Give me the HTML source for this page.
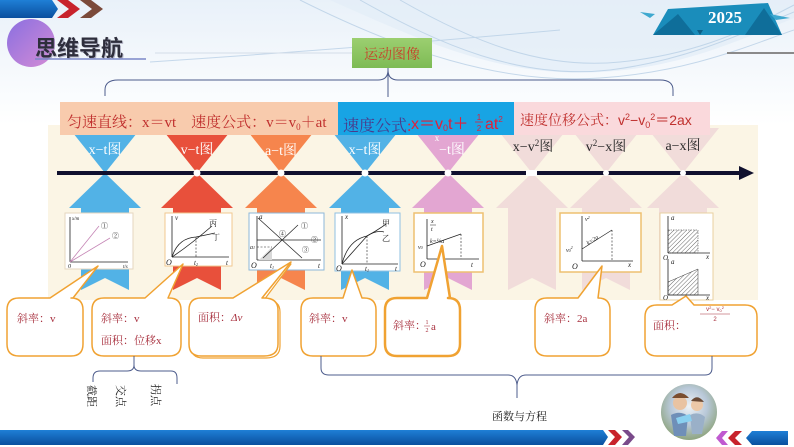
<!DOCTYPE html>
<html><head><meta charset="utf-8">
<style>
html,body{margin:0;padding:0;width:794px;height:447px;overflow:hidden;background:#fff}
svg{display:block}
.s{font-family:"Liberation Serif","Noto Serif CJK SC",serif}
.ss{font-family:"Liberation Sans","Noto Sans CJK SC",sans-serif}
</style></head><body>
<svg width="794" height="447" viewBox="0 0 794 447" xmlns="http://www.w3.org/2000/svg">
<defs>
<linearGradient id="topg" x1="0" y1="0" x2="0" y2="1"><stop offset="0" stop-color="#e9f1f9"/><stop offset="1" stop-color="#ffffff"/></linearGradient>
<linearGradient id="pc" x1="0" y1="0" x2="1" y2="1"><stop offset="0" stop-color="#8a6fe0"/><stop offset="1" stop-color="#d58cd6"/></linearGradient>
<linearGradient id="gb" x1="0" y1="0" x2="0" y2="1"><stop offset="0" stop-color="#9ccf70"/><stop offset="1" stop-color="#7dbb55"/></linearGradient>
<linearGradient id="bb" x1="0" y1="0" x2="0" y2="1"><stop offset="0" stop-color="#1f7fd6"/><stop offset="1" stop-color="#0a4f9e"/></linearGradient>
<radialGradient id="av" cx="0.5" cy="0.4" r="0.6"><stop offset="0" stop-color="#eef2f6"/><stop offset="0.55" stop-color="#b8c8d8"/><stop offset="1" stop-color="#8ea47e"/></radialGradient>
<pattern id="hatch" width="3" height="3" patternUnits="userSpaceOnUse" patternTransform="rotate(45)"><line x1="0" y1="0" x2="0" y2="3" stroke="#444" stroke-width="0.8"/></pattern>
<path id="tp" d="M-36,128 L36,128 L0,173Z"/>
<path id="bp" d="M0,173 L36,208 L24,208 L24,290 L0,278 L-24,290 L-24,208 L-36,208Z"/>
</defs>

<!-- background -->
<rect width="794" height="447" fill="#ffffff"/>
<rect width="794" height="125" fill="url(#topg)"/>
<path d="M330,0 C420,40 500,78 600,72 C680,68 740,40 794,18 L794,0 Z" fill="#e3edf7" opacity="0.8"/>
<g fill="none" stroke="#b9d0e6" stroke-width="1" opacity="0.8">
<path d="M360,0 C440,45 520,80 610,70 C690,60 750,30 794,12"/>
<path d="M400,0 C470,40 540,70 620,62 C700,54 750,28 794,5"/>
<path d="M300,0 C400,50 500,85 600,78 C690,72 750,45 794,30"/>
<path d="M150,62 C300,52 450,40 560,30"/>
</g>

<!-- top-left header -->
<path d="M0,0 L52,0 L58,9 L52,18 L0,18Z" fill="url(#bb)"/>
<path d="M57,0 L68,0 L80,9 L68,18 L57,18 L69,9Z" fill="#c8232c"/>
<path d="M80,0 L91,0 L103,9 L91,18 L80,18 L92,9Z" fill="#7b4a3a"/>
<circle cx="31" cy="43" r="24" fill="url(#pc)"/>
<text x="36" y="57" class="ss" font-size="22" font-weight="bold" fill="#8e8ea8" opacity="0.6">思维导航</text>
<text x="35" y="56" class="ss" font-size="22" font-weight="bold" fill="#2e2e3c">思维导航</text>
<line x1="35" y1="59" x2="146" y2="59" stroke="#7b87c8" stroke-width="1.5"/>
<line x1="155" y1="53" x2="352" y2="53" stroke="#d4dde8" stroke-width="1"/>

<!-- 2025 banner -->
<polygon points="653,35 668,9 768,3 782,35" fill="#1a8dbb"/>
<polygon points="653,35 678,14 695,35" fill="#0f6e9a"/>
<polygon points="745,35 764,8 782,35" fill="#0f6e9a"/>
<polygon points="640,12 655,14 650,18" fill="#3ea8cf"/>
<polygon points="770,14 790,18 776,20" fill="#3ea8cf"/>
<polygon points="697,30 703,30 700,35" fill="#0d5f86"/>
<text x="725" y="23" text-anchor="middle" class="s" font-size="17" font-weight="bold" fill="#ffffff">2025</text>
<line x1="727" y1="53" x2="794" y2="53" stroke="#8a8a8a" stroke-width="2"/>

<!-- green box -->
<rect x="352" y="38" width="80" height="30" fill="url(#gb)"/>
<text x="392" y="59" text-anchor="middle" class="s" font-size="14" fill="#c8402a">运动图像</text>

<!-- top brace -->
<path d="M105,96 L105,90 Q105,80 118,80 L378,80 Q388,80 388,70 M388,70 Q388,80 398,80 L660,80 Q673,80 673,90 L673,96 M388,68 L388,97" fill="none" stroke="#4d5c8c" stroke-width="1"/>

<!-- cream panel -->
<rect x="48" y="125" width="710" height="175" fill="#fbf5e5"/>

<!-- markers -->
<g>
<use href="#tp" x="105" fill="#52b2e6"/><use href="#bp" x="105" fill="#52b2e6"/>
<use href="#tp" x="197" fill="#e8503b"/><use href="#bp" x="197" fill="#e8503b"/>
<use href="#tp" x="281" fill="#f6854d"/><use href="#bp" x="281" fill="#f6854d"/>
<use href="#tp" x="365" fill="#52b2e6"/><use href="#bp" x="365" fill="#52b2e6"/>
<use href="#tp" x="448" fill="#e3a6d2"/><use href="#bp" x="448" fill="#e3a6d2"/>
<use href="#tp" x="532" fill="#f1dcda"/><use href="#bp" x="532" fill="#f1dcda"/>
<use href="#tp" x="606" fill="#f1dcda"/><use href="#bp" x="606" fill="#f1dcda"/>
<use href="#tp" x="683" fill="#f1dcda"/><use href="#bp" x="683" fill="#f1dcda"/>
</g>

<!-- axis -->
<line x1="57" y1="173" x2="742" y2="173" stroke="#10102e" stroke-width="4"/>
<polygon points="739,166 754,173 739,180" fill="#10102e"/>
<rect x="526" y="170" width="11" height="6" fill="#ffffff"/>
<g fill="#ffffff">
<circle cx="197" cy="173" r="3.5"/><circle cx="281" cy="173" r="3.5"/>
<circle cx="365" cy="173" r="3.5"/><circle cx="448" cy="173" r="3.5"/>
<circle cx="606" cy="173" r="3"/><circle cx="683" cy="173" r="3"/>
</g>

<!-- formula boxes -->
<rect x="60" y="102" width="278" height="33" fill="#f8cbad"/>
<text x="67" y="127" class="s" font-size="15" fill="#c0302e">匀速直线：x＝vt　速度公式：v＝v<tspan font-size="9" dy="3">0</tspan><tspan dy="-3">＋at</tspan></text>
<rect x="338" y="102" width="176" height="33" fill="#18a4e4"/>
<text x="343" y="131" class="s" font-size="16" fill="#4a3a8a">速度公式<tspan fill="#e0203a">:</tspan></text>
<text x="411" y="129" class="ss" font-size="16" fill="#e0203a">x＝v<tspan font-size="9" dy="2">0</tspan><tspan dy="-2">t＋</tspan></text>
<text x="479" y="120" text-anchor="middle" class="ss" font-size="8" fill="#e0203a">1</text>
<line x1="475" y1="122" x2="483" y2="122" stroke="#e0203a" stroke-width="0.8"/>
<text x="479" y="131" text-anchor="middle" class="ss" font-size="8" fill="#e0203a">2</text>
<text x="485" y="129" class="ss" font-size="16" fill="#e0203a">at<tspan font-size="8" dy="-7">2</tspan></text>
<rect x="514" y="102" width="196" height="33" fill="#fad9dc"/>
<text x="520" y="125" class="s" font-size="14" fill="#c0302e">速度位移公式：<tspan class="ss">v<tspan font-size="9" dy="-5">2</tspan><tspan dy="5">−v</tspan><tspan font-size="9" dy="3">0</tspan><tspan font-size="9" dy="-8">2</tspan><tspan dy="5">＝2ax</tspan></tspan></text>

<!-- marker labels -->
<g class="s" font-size="14" text-anchor="middle" fill="#ffffff">
<text x="105" y="154">x−t图</text>
<text x="197" y="154">v−t图</text>
<text x="281" y="155">a−t图</text>
<text x="365" y="154">x−t图</text>
<text x="452" y="154">−t图</text>
<text x="437" y="141" font-size="9">x</text>
</g>
<g class="s" font-size="14" text-anchor="middle" fill="#2a2a2a">
<text x="533" y="151">x−v<tspan font-size="9" dy="-5">2</tspan><tspan dy="5">图</tspan></text>
<text x="606" y="151">v<tspan font-size="9" dy="-5">2</tspan><tspan dy="5">−x图</tspan></text>
<text x="683" y="150">a−x图</text>
</g>

<!-- graph boxes -->
<g class="s" font-size="7" font-style="italic" fill="#222">
<rect x="65" y="213" width="68" height="56" fill="#fff" stroke="#e6d6bf" stroke-width="1"/>
<line x1="70" y1="262" x2="70" y2="217" stroke="#222" stroke-width="0.8"/>
<line x1="70" y1="262" x2="128" y2="262" stroke="#222" stroke-width="0.8"/>
<line x1="70" y1="262" x2="99" y2="226" stroke="#c585b5" stroke-width="0.8"/>
<line x1="70" y1="262" x2="110" y2="238" stroke="#c585b5" stroke-width="0.8"/>
<text x="72" y="220" font-size="5">x/m</text>
<text x="101" y="228" font-size="7" font-style="normal">①</text>
<text x="112" y="238" font-size="7" font-style="normal">②</text>
<text x="68" y="268" font-size="6">0</text>
<text x="123" y="268" font-size="5">t/s</text>
<rect x="165" y="213" width="67" height="53" fill="#fff" stroke="#f0c890" stroke-width="1"/>
<line x1="172" y1="257" x2="172" y2="216" stroke="#222" stroke-width="0.8"/>
<line x1="172" y1="257" x2="229" y2="257" stroke="#222" stroke-width="0.8"/>
<path d="M172,257 Q190,245 212,226" fill="none" stroke="#222" stroke-width="0.8"/>
<path d="M172,257 Q178,238 196,237 Q206,235 215,233" fill="none" stroke="#222" stroke-width="0.8"/>
<line x1="196" y1="237" x2="196" y2="257" stroke="#222" stroke-width="0.6" stroke-dasharray="2,1.5"/>
<text x="175" y="220">v</text>
<text x="209" y="226" font-style="normal" font-size="8">丙</text>
<text x="212" y="240" font-style="normal" font-size="8">丁</text>
<text x="166" y="265" font-size="8">O</text>
<text x="194" y="265">t<tspan font-size="4" dy="1">2</tspan></text>
<text x="226" y="265">t</text>
<rect x="249" y="213" width="75" height="57" fill="#fff" stroke="#8db7d9" stroke-width="1"/>
<line x1="257" y1="260" x2="257" y2="216" stroke="#222" stroke-width="0.8"/>
<line x1="257" y1="260" x2="321" y2="260" stroke="#222" stroke-width="0.8"/>
<polygon points="259,260 272,247 272,260" fill="#d8d8d8"/>
<line x1="258" y1="218" x2="302" y2="258" stroke="#222" stroke-width="0.7"/>
<line x1="263" y1="258" x2="298" y2="225" stroke="#222" stroke-width="0.7"/>
<line x1="257" y1="240" x2="321" y2="240" stroke="#222" stroke-width="0.7"/>
<line x1="257" y1="247" x2="272" y2="247" stroke="#222" stroke-width="0.6" stroke-dasharray="2,1.5"/>
<text x="259" y="219">a</text>
<text x="250" y="249" font-size="6">a<tspan font-size="4">1</tspan></text>
<text x="279" y="236" font-style="normal">④</text>
<text x="301" y="228" font-style="normal">①</text>
<text x="311" y="242" font-style="normal">②</text>
<text x="302" y="252" font-style="normal">③</text>
<text x="251" y="268" font-size="8">O</text>
<text x="270" y="268">t<tspan font-size="4" dy="1">1</tspan></text>
<text x="318" y="268">t</text>
<rect x="335" y="213" width="65" height="58" fill="#fff" stroke="#8fc0e2" stroke-width="1"/>
<line x1="342" y1="264" x2="342" y2="216" stroke="#222" stroke-width="0.8"/>
<line x1="342" y1="264" x2="398" y2="264" stroke="#222" stroke-width="0.8"/>
<path d="M342,264 Q348,240 367,236 Q378,230 386,224" fill="none" stroke="#222" stroke-width="0.8"/>
<path d="M342,264 Q358,246 367,236 Q376,230 384,232" fill="none" stroke="#222" stroke-width="0.8"/>
<line x1="367" y1="236" x2="367" y2="264" stroke="#222" stroke-width="0.6" stroke-dasharray="2,1.5"/>
<text x="345" y="219">x</text>
<text x="382" y="226" font-style="normal" font-size="8">甲</text>
<text x="382" y="241" font-style="normal" font-size="8">乙</text>
<text x="336" y="271" font-size="8">O</text>
<text x="365" y="271">t<tspan font-size="4" dy="1">1</tspan></text>
<text x="395" y="271">t</text>
<rect x="414" y="213" width="69" height="59" fill="#fff" stroke="#eec070" stroke-width="1.5"/>
<line x1="427" y1="259" x2="427" y2="219" stroke="#222" stroke-width="0.8"/>
<line x1="427" y1="259" x2="479" y2="259" stroke="#222" stroke-width="0.8"/>
<line x1="427" y1="246" x2="461" y2="234" stroke="#222" stroke-width="0.7"/>
<line x1="461" y1="234" x2="461" y2="259" stroke="#222" stroke-width="0.6" stroke-dasharray="2,1.5"/>
<text x="431" y="223" font-size="6">x</text>
<line x1="430" y1="225" x2="436" y2="225" stroke="#222" stroke-width="0.5"/>
<text x="431" y="231" font-size="6">t</text>
<text x="430" y="243" font-size="6">k=½a</text>
<text x="418" y="249" font-size="6">v<tspan font-size="4">0</tspan></text>
<text x="420" y="267" font-size="8">O</text>
<text x="471" y="267">t</text>
<rect x="560" y="213" width="81" height="59" fill="#fff" stroke="#eec070" stroke-width="1.5"/>
<line x1="582" y1="261" x2="582" y2="216" stroke="#222" stroke-width="0.8"/>
<line x1="582" y1="261" x2="633" y2="261" stroke="#222" stroke-width="0.8"/>
<line x1="582" y1="249" x2="612" y2="230" stroke="#222" stroke-width="0.7"/>
<line x1="612" y1="230" x2="612" y2="261" stroke="#222" stroke-width="0.6" stroke-dasharray="2,1.5"/>
<text x="585" y="221" font-size="6">v<tspan font-size="4" dy="-2">2</tspan></text>
<text x="588" y="245" font-size="6" transform="rotate(-32 588 245)">k=2a</text>
<text x="566" y="252" font-size="6">v<tspan font-size="4">0</tspan><tspan font-size="4" dy="-3">2</tspan></text>
<text x="572" y="269" font-size="8">O</text>
<text x="628" y="267">x</text>
<rect x="660" y="213" width="53" height="87" fill="#fff" stroke="#e8d0a0" stroke-width="1"/>
<line x1="668" y1="253" x2="668" y2="216" stroke="#222" stroke-width="0.8"/>
<line x1="668" y1="253" x2="710" y2="253" stroke="#222" stroke-width="0.8"/>
<rect x="668" y="230" width="30" height="23" fill="url(#hatch)" stroke="#333" stroke-width="0.5" stroke-dasharray="1.5,1"/>
<text x="671" y="220">a</text>
<text x="663" y="260" font-size="7">O</text>
<text x="706" y="259">x</text>
<line x1="668" y1="295" x2="668" y2="259" stroke="#222" stroke-width="0.8"/>
<line x1="668" y1="295" x2="710" y2="295" stroke="#222" stroke-width="0.8"/>
<polygon points="668,282 698,269 698,295 668,295" fill="url(#hatch)" stroke="#333" stroke-width="0.5"/>
<text x="671" y="264">a</text>
<text x="663" y="300" font-size="7">O</text>
<text x="706" y="300">x</text>
</g>

<!-- callouts -->
<g fill="#ffffff" stroke="#f0a232" stroke-width="1.5" stroke-linejoin="round">
<path d="M19,298 L50,298 L98,266 L73,298 L71,298 Q83,298 83,310 L83,344 Q83,356 71,356 L19,356 Q7,356 7,344 L7,310 Q7,298 19,298Z"/>
<path d="M104,298 L145,298 L183,264 L168,298 L169,298 Q181,298 181,310 L181,344 Q181,356 169,356 L104,356 Q92,356 92,344 L92,310 Q92,298 104,298Z"/>
<path d="M203,300 L235,300 L291,264 L264,300 L266,300 Q280,300 280,312 L280,346 Q280,358 266,358 L203,358 Q191,358 191,346 L191,312 Q191,300 203,300Z" stroke-width="1.2"/>
<path d="M201,298 L233,298 L291,262 L262,298 L264,298 Q278,298 278,310 L278,344 Q278,356 264,356 L201,356 Q189,356 189,344 L189,310 Q189,298 201,298Z"/>
<path d="M313,298 L343,298 L352,270 L362,298 L364,298 Q376,298 376,310 L376,344 Q376,356 364,356 L313,356 Q301,356 301,344 L301,310 Q301,298 313,298Z"/>
<path d="M397,298 L427,298 L442,246 L450,298 L448,298 Q460,298 460,310 L460,344 Q460,356 448,356 L397,356 Q385,356 385,344 L385,310 Q385,298 397,298Z" stroke-width="2.5"/>
<path d="M547,298 L578,298 L602,266 L598,298 L598,298 Q610,298 610,310 L610,344 Q610,356 598,356 L547,356 Q535,356 535,344 L535,310 Q535,298 547,298Z"/>
<path d="M657,305 L672,305 L686,296 L694,305 L745,305 Q757,305 757,317 L757,344 Q757,356 745,356 L657,356 Q645,356 645,344 L645,317 Q645,305 657,305Z"/>
</g>

<!-- callout text -->
<g class="s" font-size="11" fill="#a8303e">
<text x="17" y="322">斜率：v</text>
<text x="101" y="322">斜率：v</text>
<text x="101" y="344">面积：位移x</text>
<text x="198" y="321">面积：<tspan font-style="italic">Δv</tspan></text>
<text x="309" y="322">斜率：v</text>
<text x="393" y="329">斜率：</text>
<text x="427" y="324" font-size="6" text-anchor="middle">1</text>
<line x1="424" y1="326" x2="430" y2="326" stroke="#a8303e" stroke-width="0.5"/>
<text x="427" y="332" font-size="6" text-anchor="middle">2</text>
<text x="431" y="330">a</text>
<text x="544" y="322">斜率：2a</text>
<text x="653" y="329">面积：</text>
<text x="715" y="311" font-size="6" text-anchor="middle" class="ss">v<tspan font-size="4" dy="-2">2</tspan><tspan dy="2">− v</tspan><tspan font-size="4" dy="1">0</tspan><tspan font-size="4" dy="-3">2</tspan></text>
<line x1="700" y1="314" x2="730" y2="314" stroke="#a8303e" stroke-width="0.6"/>
<text x="715" y="321" font-size="6" text-anchor="middle" class="ss">2</text>
</g>

<!-- small bracket and vertical words -->
<path d="M134,356 L134,365 Q134,371 127,371 L100,371 Q93,371 93,378 L93,382 M134,365 Q134,371 141,371 L171,371 Q177,371 177,378 L177,384" fill="none" stroke="#4d5c8c" stroke-width="1"/>
<g class="s" font-size="11" fill="#222">
<text x="88" y="385" transform="rotate(90 88 385)">截距</text>
<text x="117" y="385" transform="rotate(90 117 385)">交点</text>
<text x="152" y="384" transform="rotate(90 152 384)">拐点</text>
</g>

<!-- big brace -->
<path d="M321,356 L321,368 Q321,375 329,375 L508,375 Q516,375 517,385 L517,398 M517,385 Q518,375 526,375 L705,375 Q712,375 712,368 L712,356" fill="none" stroke="#4d5c8c" stroke-width="1"/>
<text x="492" y="420" class="s" font-size="11" fill="#1a1a1a">函数与方程</text>

<!-- bottom bar -->
<path d="M0,430 L603,430 L608,437 L603,445 L0,445Z" fill="url(#bb)"/>
<path d="M608,430 L615,430 L622,437 L615,445 L608,445 L615,437Z" fill="#c8232c"/>
<path d="M622,430 L628,430 L635,437 L628,445 L622,445 L629,437Z" fill="#7a4a8a"/>
<path d="M728,431 L722,431 L716,438 L722,445 L728,445 L722,438Z" fill="#c05ad0"/>
<path d="M742,431 L735,431 L728,438 L735,445 L742,445 L735,438Z" fill="#c8232c"/>
<path d="M752,431 L788,431 L788,445 L752,445 L746,438Z" fill="url(#bb)"/>

<!-- avatar -->
<circle cx="689" cy="412" r="28" fill="url(#av)"/>
<circle cx="680" cy="403" r="7" fill="#e9c3a2"/>
<circle cx="697" cy="405" r="6" fill="#ecc8a8"/>
<path d="M672,398 Q680,388 689,398" fill="#7a4e30"/>
<path d="M691,401 Q697,393 704,402" fill="#6a4a36"/>
<path d="M671,415 Q680,410 688,416 L686,436 L674,436Z" fill="#6f8fb8"/>
<path d="M690,415 Q698,411 705,417 L702,434 L692,434Z" fill="#9ab0c8"/>
<path d="M676,418 L690,414 L692,421 L678,424Z" fill="#8ad0f0"/>
</svg>
</body></html>
